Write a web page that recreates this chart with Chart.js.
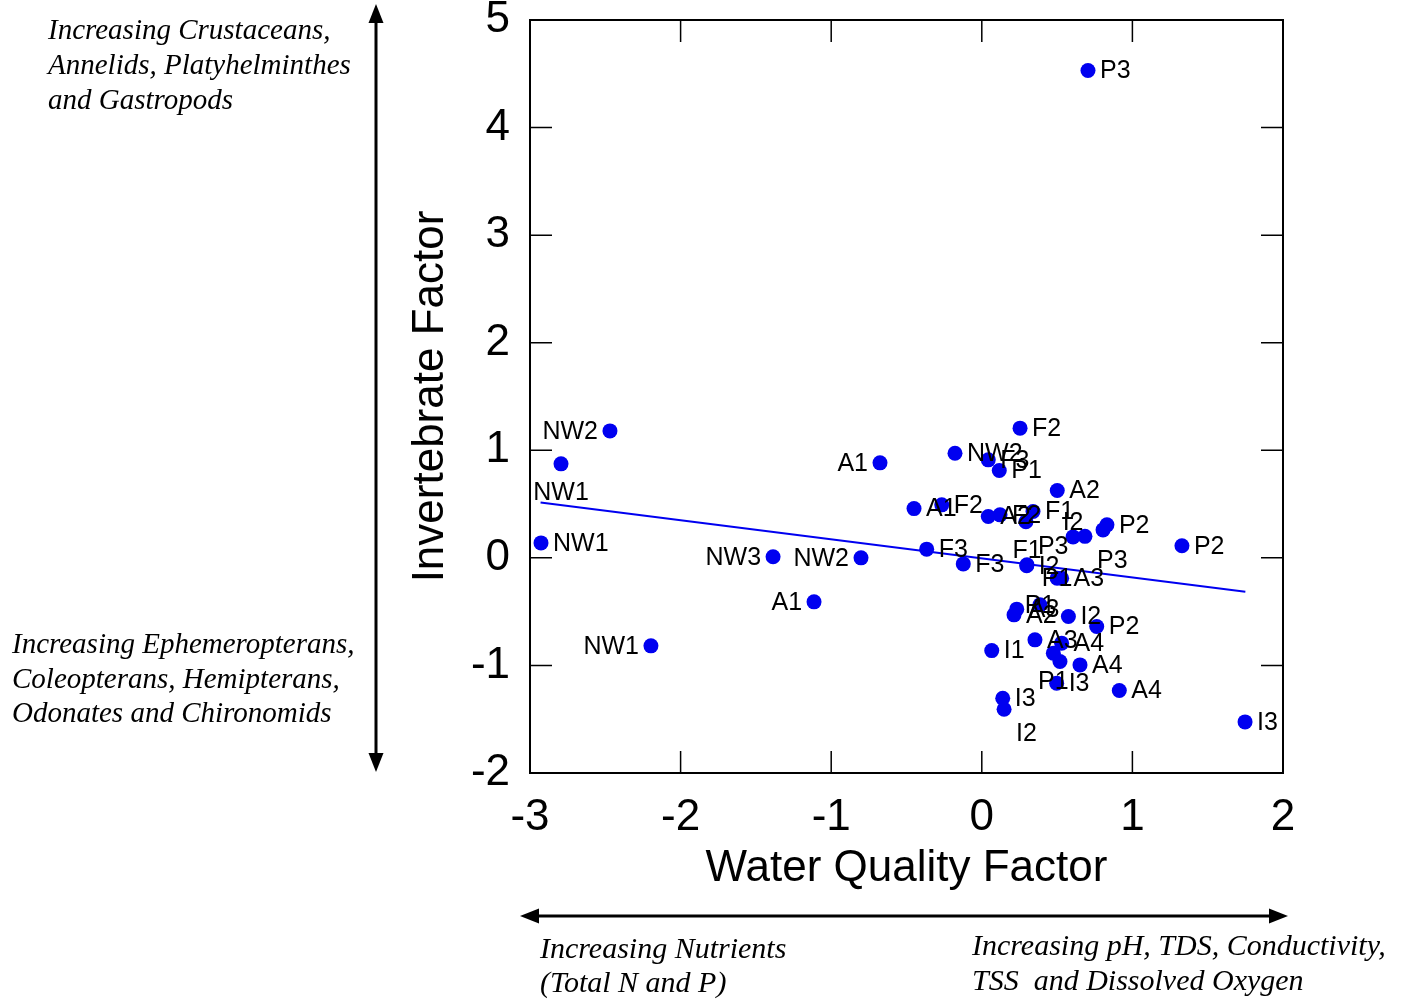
<!DOCTYPE html>
<html>
<head>
<meta charset="utf-8">
<script src="https://cdn.jsdelivr.net/npm/chart.js@4.4.0/dist/chart.umd.min.js"></script>
<style>
  body { margin: 0; background: #fff; }
</style>
</head>
<body>
<canvas id="myChart" width="1411" height="1003"></canvas>
<script>
// sampling site of each point
const siteLabels = [
    'P3', 'NW2', 'NW1', 'NW1', 'A1', 'NW3', 'NW2', 'A1', 'NW1', 'P2',
    'I3', 'F2', 'NW2', 'F3', 'P1', 'A2', 'A1', 'F2', 'A2', 'F2',
    'F1', 'P3', 'I2', 'P3', 'P2', '', 'F3', 'F3', 'I2', 'F1',
    'P1', 'A3', 'A3', 'A2', 'P1', 'I2', 'P2', 'A3', 'A4', 'P1',
    '', 'A4', 'I3', 'A4', 'I1', 'I3', 'I2'
];

// water quality factor scores (x)
const waterQuality = [
    0.705, -2.469, -2.794, -2.927, -0.676, -1.386, -0.802, -1.114, -2.197, 1.329,
    1.748, 0.254, -0.178, 0.043, 0.116, 0.501, -0.450, -0.266, 0.043, 0.121,
    0.340, 0.293, 0.606, 0.685, 0.831, 0.805, -0.366, -0.123, 0.298, 0.300,
    0.500, 0.530, 0.232, 0.214, 0.386, 0.575, 0.763, 0.353, 0.530, 0.475,
    0.519, 0.652, 0.497, 0.913, 0.066, 0.139, 0.148
];

// invertebrate factor scores (y)
const invertebrate = [
    4.53, 1.18, 0.874, 0.139, 0.883, 0.01, 0.0, -0.409, -0.818, 0.112,
    -1.525, 1.206, 0.973, 0.911, 0.812, 0.626, 0.458, 0.493, 0.384, 0.40,
    0.431, 0.335, 0.195, 0.200, 0.307, 0.26, 0.081, -0.056, -0.074, -0.065,
    -0.19, -0.19, -0.477, -0.53, -0.437, -0.545, -0.638, -0.762, -0.793, -0.886,
    -0.964, -0.995, -1.165, -1.233, -0.862, -1.305, -1.407
];

// fitted line, read at both ends
const trendX = [-2.93, 1.75];
const trendY = [0.515, -0.316];

const xTicks = [-3, -2, -1, 0, 1, 2];
const yTicks = [-2, -1, 0, 1, 2, 3, 4, 5];

// where each site label sits next to its dot
const labelSide = [
    'r', 'l', 'b', 'r', 'l', 'l', 'l', 'l', 'l', 'r',
    'r', 'r', 'r', 'r', 'r', 'r', 'r', 'r', 'r', 'r',
    'r', 'br', 'a', 'br', 'r', 'r', 'r', 'r', 'r', 'a',
    'c', 'r', 'r', 'r', 'c', 'r', 'r', 'r', 'r', 'b',
    'r', 'r', 'r', 'r', 'r', 'r', 'br'
];

const points = waterQuality.map(function(x, i) {
    return { x: x, y: invertebrate[i] };
});
const trend = trendX.map(function(x, i) {
    return { x: x, y: trendY[i] };
});

const blue = '#0000f0';
const sans = '"Liberation Sans", Arial, sans-serif';
const serif = '"Liberation Serif", "Times New Roman", serif';

const framePlugin = {
    id: 'frame',
    beforeDatasetsDraw(chart) {
        const c = chart.ctx;
        const a = chart.chartArea;
        const sx = chart.scales.x;
        const sy = chart.scales.y;
        c.save();
        c.strokeStyle = '#000';
        c.lineWidth = 2;
        c.strokeRect(a.left, a.top, a.right - a.left, a.bottom - a.top);
        c.lineWidth = 1.5;
        c.beginPath();
        xTicks.forEach(function(v) {
            const px = sx.getPixelForValue(v);
            c.moveTo(px, a.bottom); c.lineTo(px, a.bottom - 22);
            c.moveTo(px, a.top); c.lineTo(px, a.top + 22);
        });
        yTicks.forEach(function(v) {
            const py = sy.getPixelForValue(v);
            c.moveTo(a.left, py); c.lineTo(a.left + 22, py);
            c.moveTo(a.right, py); c.lineTo(a.right - 22, py);
        });
        c.stroke();
        c.restore();
    }
};

const labelPlugin = {
    id: 'siteLabels',
    afterDatasetsDraw(chart) {
        const c = chart.ctx;
        const meta = chart.getDatasetMeta(0);
        c.save();
        c.font = '25px ' + sans;
        c.fillStyle = '#000';
        c.textBaseline = 'middle';
        meta.data.forEach(function(pt, i) {
            const text = siteLabels[i];
            if (!text) return;
            const side = labelSide[i];
            let x = pt.x, y = pt.y + 1;
            if (side === 'r') { c.textAlign = 'left'; x += 12; }
            else if (side === 'l') { c.textAlign = 'right'; x -= 12; }
            else if (side === 'b') { c.textAlign = 'center'; y += 28; }
            else if (side === 'a') { c.textAlign = 'center'; y -= 15; }
            else if (side === 'br') { c.textAlign = 'left'; x += 12; y += 24; }
            else { c.textAlign = 'center'; }
            c.fillText(text, x, y);
        });
        c.restore();
    }
};

function arrowHead(c, tx, ty, dx, dy) {
    // tip at (tx,ty), pointing along (dx,dy)
    const len = 19, half = 7.5;
    const bx = tx - dx * len, by = ty - dy * len;
    c.beginPath();
    c.moveTo(tx, ty);
    c.lineTo(bx - dy * half, by + dx * half);
    c.lineTo(bx + dy * half, by - dx * half);
    c.closePath();
    c.fill();
}

const notesPlugin = {
    id: 'notes',
    afterDraw(chart) {
        const c = chart.ctx;
        c.save();
        c.strokeStyle = '#000';
        c.fillStyle = '#000';
        c.lineWidth = 3;
        c.beginPath();
        c.moveTo(376, 20); c.lineTo(376, 756);
        c.moveTo(536, 916); c.lineTo(1272, 916);
        c.stroke();
        arrowHead(c, 376, 4, 0, -1);
        arrowHead(c, 376, 772, 0, 1);
        arrowHead(c, 520, 916, -1, 0);
        arrowHead(c, 1288, 916, 1, 0);

        c.font = 'italic 29px ' + serif;
        c.textAlign = 'left';
        c.textBaseline = 'alphabetic';
        c.fillText('Increasing Crustaceans,', 48, 39);
        c.fillText('Annelids, Platyhelminthes', 48, 74);
        c.fillText('and Gastropods', 48, 109);
        c.fillText('Increasing Ephemeropterans,', 12, 653);
        c.fillText('Coleopterans, Hemipterans,', 12, 688);
        c.fillText('Odonates and Chironomids', 12, 722);
        c.font = 'italic 30px ' + serif;
        c.fillText('Increasing Nutrients', 540, 958);
        c.fillText('(Total N and P)', 540, 992);
        c.fillText('Increasing pH, TDS, Conductivity,', 972, 955);
        c.fillText('TSS  and Dissolved Oxygen', 972, 990);
        c.restore();
    }
};

const ctx = document.getElementById('myChart');

new Chart(ctx, {
    type: 'scatter',
    data: {
        datasets: [{
            data: points,
            pointRadius: 7.5,
            pointHoverRadius: 7.5,
            backgroundColor: blue,
            borderWidth: 0
        }, {
            type: 'line',
            data: trend,
            borderColor: blue,
            borderWidth: 2,
            pointRadius: 0,
            fill: false
        }]
    },
    options: {
        responsive: false,
        animation: false,
        events: [],
        layout: {
            padding: { left: 404, right: 128, top: 20, bottom: 108 }
        },
        plugins: {
            legend: { display: false },
            tooltip: { enabled: false }
        },
        scales: {
            x: {
                type: 'linear',
                min: -3,
                max: 2,
                afterBuildTicks: function(scale) {
                    scale.ticks = xTicks.map(function(v) { return { value: v }; });
                },
                ticks: { color: '#000', padding: 10, font: { family: sans, size: 44 } },
                grid: { display: false },
                border: { display: false },
                title: {
                    display: true,
                    text: 'Water Quality Factor',
                    color: '#000',
                    padding: 0,
                    font: { family: sans, size: 44 }
                },
                afterFit: function(scale) {
                    scale.height = 122;
                    scale.paddingLeft = 0;
                    scale.paddingRight = 0;
                }
            },
            y: {
                type: 'linear',
                min: -2,
                max: 5,
                afterBuildTicks: function(scale) {
                    scale.ticks = yTicks.map(function(v) { return { value: v }; });
                },
                ticks: { color: '#000', padding: 12, font: { family: sans, size: 44 } },
                grid: { display: false },
                border: { display: false },
                title: {
                    display: true,
                    text: 'Invertebrate Factor',
                    color: '#000',
                    padding: 0,
                    font: { family: sans, size: 44 }
                },
                afterFit: function(scale) {
                    scale.width = 126;
                    scale.paddingTop = 0;
                    scale.paddingBottom = 0;
                }
            }
        }
    },
    plugins: [framePlugin, labelPlugin, notesPlugin]
});
</script>
</body>
</html>
